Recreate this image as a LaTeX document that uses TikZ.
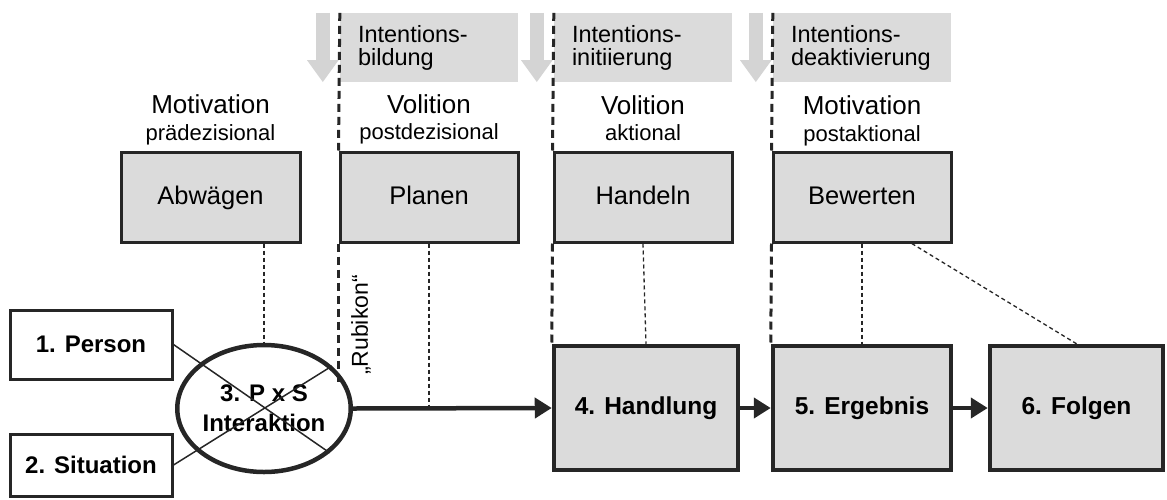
\documentclass[tikz,border=0pt]{standalone}
\usepackage{fontspec}
\setmainfont{Liberation Sans}
\usetikzlibrary{shapes.geometric, arrows.meta, positioning, calc}
\definecolor{rkline}{RGB}{38,38,38}
\definecolor{rkgray}{RGB}{219,219,219}
\definecolor{rkhead}{RGB}{219,219,219}
\definecolor{rkarrow}{RGB}{212,212,212}

\begin{document}
\begin{tikzpicture}[x=1pt, y=-1pt,
  hdr/.style={rectangle, fill=rkhead, minimum width=178pt, minimum height=69pt, text width=142pt, inner xsep=18pt, align=left, font=\fontsize{23.5}{23}\selectfont},
  phase/.style={rectangle, draw=rkline, line width=3pt, fill=rkgray, minimum width=178pt, minimum height=90pt, text height=18pt, text depth=3pt, font=\fontsize{25.5}{28}\selectfont},
  lbl/.style={font=\fontsize{26}{28}\selectfont, inner sep=0pt, anchor=base},
  sublbl/.style={font=\fontsize{22}{24}\selectfont, inner sep=0pt, anchor=base},
  inbox/.style={rectangle, draw=rkline, line width=3pt, fill=white, minimum width=162pt, font=\fontsize{24}{27}\selectfont\bfseries},
  stage/.style={rectangle, draw=rkline, line width=4.5pt, fill=rkgray, minimum height=124pt, text height=17pt, text depth=4pt, font=\fontsize{24.5}{27}\selectfont\bfseries},
  rubicon/.style={draw=rkline, line width=3pt, dash pattern=on 8pt off 5pt},
  guide/.style={draw=rkline, line width=1.3pt, dash pattern=on 4pt off 3pt},
  cross/.style={draw=rkline, line width=1.5pt},
  arr/.style={draw=rkline, line width=4.5pt, -{Triangle[length=17pt,width=20pt]}},
  downarr/.style={draw=rkarrow, line width=14pt, -{Triangle[length=22pt,width=30pt]}}
]
\useasboundingbox (0,0) rectangle (1167,499);
\node[hdr] (hdr1) at (429,47.5) {Intentions-\\bildung};
\node[hdr] (hdr2) at (643,47.5) {Intentions-\\initiierung};
\node[hdr] (hdr3) at (862,47.5) {Intentions-\\deaktivierung};
\node[phase, minimum width=179pt] (abw) at (210.5,197) {Abwägen};
\node[phase] (plan) at (429,197) {Planen};
\node[phase] (hand) at (643,197) {Handeln};
\node[phase] (bew) at (862,197) {Bewerten};
\node[lbl] (mot1) at ([yshift=84pt]abw.center) {Motivation};
\node[sublbl] (sub1) at ([yshift=57pt]abw.center) {prädezisional};
\node[lbl] (vol1) at ([yshift=84pt]plan.center) {Volition};
\node[sublbl] (sub2) at ([yshift=58pt]plan.center) {postdezisional};
\node[lbl] (vol2) at ([yshift=83pt]hand.center) {Volition};
\node[sublbl] (sub3) at ([yshift=57pt]hand.center) {aktional};
\node[lbl] (mot2) at ([yshift=83pt]bew.center) {Motivation};
\node[sublbl] (sub4) at ([yshift=56pt]bew.center) {postaktional};
\node[inbox, minimum height=69pt] (person) at (91,344.5) {1. Person};
\node[inbox, minimum height=62pt] (situ) at (91,465) {2. Situation};
\node[ellipse, draw=rkline, line width=4.5pt, minimum width=154pt, minimum height=127pt, inner sep=0pt, align=center, font=\fontsize{24}{30}\selectfont\bfseries] (pxs) at (264,408.5) {3. P x S\\Interaktion};
\node[stage, minimum width=184pt] (hdl) at (646,408) {4. Handlung};
\node[stage, minimum width=178pt] (erg) at (862,408) {5. Ergebnis};
\node[stage, minimum width=173pt] (flg) at (1076.5,408) {6. Folgen};
\node[rotate=90, font=\fontsize{23}{26}\selectfont] (rubi) at (361,325) {„Rubikon“};
\foreach \h in {hdr1,hdr2,hdr3}
  \draw[downarr] ([xshift=-17pt]\h.north west) -- ([xshift=-17pt]\h.south west);
\draw[rubicon] (hdr1.north west) -- (plan.north west);
\draw[rubicon] (plan.south west) -- (plan.south west |- pxs.15);
\draw[rubicon] (hdr2.north west) -- (hand.north west);
\draw[rubicon] (hand.south west) -- (hdl.north west);
\draw[rubicon] (hdr3.north west) -- (bew.north west);
\draw[rubicon] (bew.south west) -- (erg.north west);
\draw[guide] (pxs.north |- abw.south) -- (pxs.north);
\draw[guide] (plan.south) -- (plan.south |- pxs.east);
\draw[guide] (hand.south) -- (hdl.north);
\draw[guide] (bew.south) -- (erg.north);
\draw[guide] ($(bew.south)!0.55!(bew.south east)$) -- (flg.north);
\draw[cross] (person.east) -- (pxs.-34);
\draw[cross] (situ.east) -- (pxs.32);
\draw[arr] (pxs.east) -- (hdl.west);
\draw[arr] (hdl) -- (erg);
\draw[arr] (erg) -- (flg);
\end{tikzpicture}
\end{document}
